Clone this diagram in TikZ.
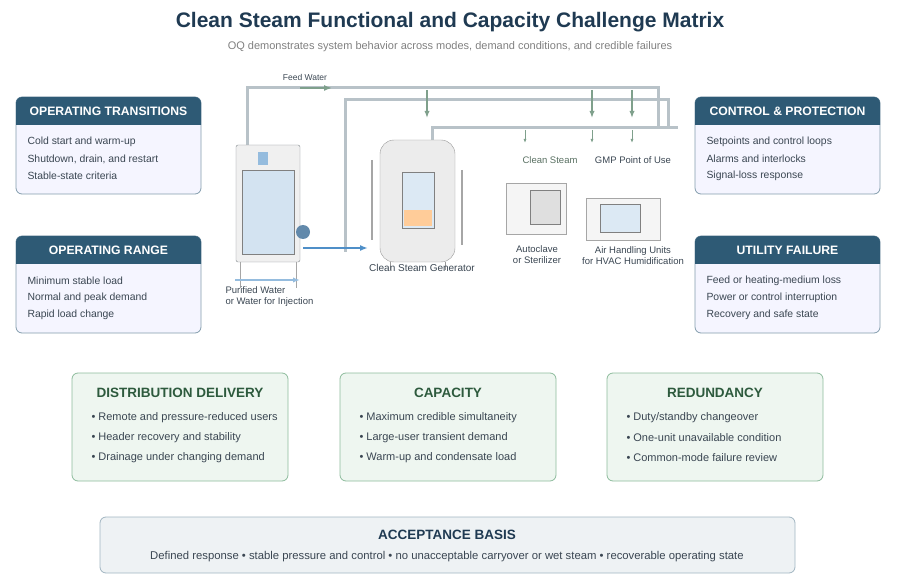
\documentclass[tikz,border=0pt]{standalone}
\usepackage{fontspec}
\setmainfont{Liberation Sans}
\usetikzlibrary{arrows.meta,positioning}
\definecolor{navy}{HTML}{1F3A52}
\definecolor{hdr}{HTML}{2E5A75}
\definecolor{txt}{HTML}{3A4652}
\definecolor{grn}{HTML}{2D5A3D}
\definecolor{grnfill}{HTML}{EEF6F0}
\definecolor{grnline}{HTML}{8DBB9C}
\definecolor{pipe}{HTML}{B8C2C8}
\definecolor{steam}{HTML}{7FA08C}
\definecolor{water}{HTML}{4F8FC8}
\begin{document}
\begin{tikzpicture}[x=1pt,y=-1pt,>=Latex,
  sidebox/.style={draw=hdr!60,fill=white!96!blue,rounded corners=6pt,line width=0.8pt},
  sidehead/.style={fill=hdr,rounded corners=6pt},
  headtxt/.style={text=white,font=\bfseries\fontsize{12.2}{14}\selectfont},
  item/.style={text=txt,font=\fontsize{10.4}{12}\selectfont,anchor=west},
  mitem/.style={text=txt,font=\fontsize{11}{13}\selectfont,anchor=west},
  midbox/.style={draw=grnline,fill=grnfill,rounded corners=6pt,line width=0.8pt},
  midhead/.style={text=grn,font=\bfseries\fontsize{13.5}{16}\selectfont},
  tube/.style={pipe,line width=3pt},
  lbl/.style={text=txt,font=\fontsize{9.5}{11}\selectfont,align=center}]
\useasboundingbox (0,0) rectangle (900,588);
\node[text=navy,font=\bfseries\fontsize{21}{24}\selectfont] (title) at (450,22) {Clean Steam Functional and Capacity Challenge Matrix};
\node[text=gray,font=\fontsize{11}{13}\selectfont] (sub) at (450,47) {OQ demonstrates system behavior across modes, demand conditions, and credible failures};

% side boxes
\foreach \x/\y/\head/\a/\b/\c in {
  16/97/OPERATING TRANSITIONS/Cold start and warm-up/{Shutdown, drain, and restart}/Stable-state criteria,
  16/236/OPERATING RANGE/Minimum stable load/Normal and peak demand/Rapid load change,
  695/97/CONTROL \& PROTECTION/Setpoints and control loops/Alarms and interlocks/Signal-loss response,
  695/236/UTILITY FAILURE/Feed or heating-medium loss/Power or control interruption/Recovery and safe state}{
  \draw[sidebox] (\x,\y) rectangle ++(185,97);
  \begin{scope}
    \clip (\x,\y) rectangle ++(185,28);
    \fill[sidehead] (\x,\y) rectangle ++(185,40);
  \end{scope}
  \node[headtxt] at (\x+92.5,\y+14) {\head};
  \node[item] at (\x+8,\y+45) {\a};
  \node[item] at (\x+8,\y+62) {\b};
  \node[item] at (\x+8,\y+79) {\c};
}

% pipes
\draw[tube] (247,155) -- (247,88) -- (658,88) -- (658,128);
\draw[tube] (345,252) -- (345,100) -- (668,100) -- (668,128);
\draw[tube] (432,140) -- (432,128) -- (678,128);
\draw[-{Latex[length=8pt]},steam,line width=1.5pt] (300,88) -- (332,88);
\foreach \x in {427,592,632}{
  \draw[-{Latex[length=7pt]},steam,line width=2pt] (\x,90) -- (\x,118);}
\foreach \x in {525,592,632}{
  \draw[-{Latex[length=4pt]},steam,line width=1pt] (\x,130) -- (\x,143);}
\node[text=txt,font=\fontsize{8.5}{10}\selectfont] (feed) at (305,77) {Feed Water};

% water tank
\draw[pipe!70!black,fill=gray!12,rounded corners=2pt] (236,145) rectangle (300,262);
\draw[gray,fill=water!25] (242,170) rectangle (294,254);
\fill[water!60] (258,152) rectangle (268,165);
\draw[gray!70] (240,262) -- (240,288) (296,262) -- (296,288);
\fill[water!60!gray] (303,232) circle (7);
\draw[-{Latex[length=8pt]},water,line width=2pt] (303,248) -- (368,248);
\draw[-{Latex[length=7pt]},water!60,line width=2pt] (235,280) -- (300,280);
\node[lbl,align=left,anchor=west,font=\fontsize{9.5}{11}\selectfont] (pw) at (222,297) {Purified Water\\or Water for Injection};

% clean steam generator
\draw[gray!80,fill=gray!15,rounded corners=14pt] (380,140) rectangle (455,262);
\draw[gray,fill=water!20] (402,172) rectangle (434,228);
\fill[orange!40] (404,210) rectangle (432,226);
\draw[gray!80] (390,262) -- (390,270) (445,262) -- (445,270);
\draw[gray!70,line width=2pt] (372,160) -- (372,240) (462,170) -- (462,245);
\node[lbl,font=\fontsize{10}{12}\selectfont] (csg) at (422,268) {Clean Steam Generator};

% users
\node[text=steam!70!black,font=\fontsize{9.5}{11}\selectfont] (cs) at (550,160) {Clean Steam};
\node[text=txt,font=\fontsize{9.5}{11}\selectfont] (gmp) at (633,160) {GMP Point of Use};
\draw[gray!70,fill=gray!8] (506,183) rectangle (566,234);
\draw[gray,fill=gray!25] (530,190) rectangle (560,224);
\draw[gray!70,fill=gray!8] (586,198) rectangle (660,240);
\draw[gray,fill=water!20] (600,204) rectangle (640,232);
\node[lbl] (ac) at (537,255) {Autoclave\\or Sterilizer};
\node[lbl] (ahu) at (633,256) {Air Handling Units\\for HVAC Humidification};

% middle boxes
\foreach \x/\head/\a/\b/\c in {
  72/DISTRIBUTION DELIVERY/Remote and pressure-reduced users/Header recovery and stability/Drainage under changing demand,
  340/CAPACITY/Maximum credible simultaneity/Large-user transient demand/Warm-up and condensate load,
  607/REDUNDANCY/{Duty/standby changeover}/One-unit unavailable condition/Common-mode failure review}{
  \draw[midbox] (\x,373) rectangle ++(216,108);
  \node[midhead] at (\x+108,393) {\head};
  \node[mitem] at (\x+16,418) {\textbullet\ \a};
  \node[mitem] at (\x+16,438) {\textbullet\ \b};
  \node[mitem] at (\x+16,458) {\textbullet\ \c};
}

% acceptance
\draw[draw=hdr!45,fill=hdr!8,rounded corners=6pt,line width=0.8pt] (100,517) rectangle (795,573);
\node[text=navy,font=\bfseries\fontsize{13.5}{16}\selectfont] (acc) at (447,535) {ACCEPTANCE BASIS};
\node[text=txt,font=\fontsize{11.3}{13}\selectfont] (accb) at (447,557) {Defined response \textbullet\ stable pressure and control \textbullet\ no unacceptable carryover or wet steam \textbullet\ recoverable operating state};
\end{tikzpicture}
\end{document}
